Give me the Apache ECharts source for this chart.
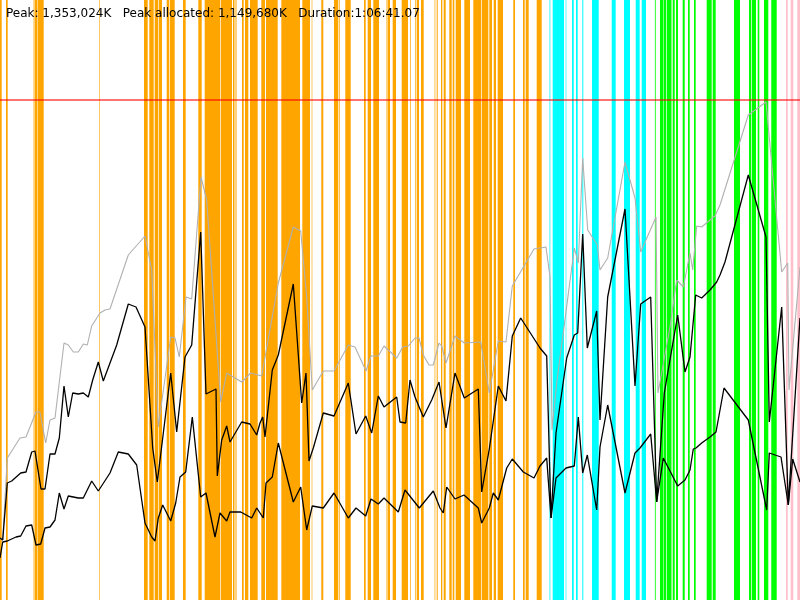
<!DOCTYPE html>
<html>
<head>
<meta charset="utf-8">
<title>GC timeline</title>
<script src="https://cdn.jsdelivr.net/npm/echarts@6/dist/echarts.min.js"></script>
<style>
  html, body { margin: 0; padding: 0; background: #fff; }
  #chart { width: 800px; height: 600px; }
</style>
</head>
<body>
<div id="chart"></div>
<script>
// time runs 0..800 (one unit per ~5 s), memory level 0..600, peak line at 500
var timeMax = 800;
var levelMax = 600;
var peakLevel = 500;
var summaryText = "Peak: 1,353,024K   Peak allocated: 1,149,680K   Duration:1:06:41.07";

// GC event spans [start, end]
var orangeSpans = [[0,1.7],[6,7.7],[33.6,34.4],[34.8,37.3],[37.7,43.7],[99.4,100],[144,147.7],[149.3,153.7],[154.7,158],[158.7,162],[166.7,169.3],[170,174.7],[183,185.7],[198.3,201.7],[204.7,220],[220.7,232],[233,234.5],[235.5,236.5],[242,243.7],[245,248.3],[250,257.7],[261.3,265],[266,277.7],[281.3,300],[302.3,310],[311.7,312.3],[321.3,323.3],[334,338.3],[339.3,340],[345.3,350.7],[364,365.7],[367.7,371],[373.3,379],[386.5,387.5],[388,390],[392.7,396],[401.7,408],[410.3,411],[415.3,416.3],[417,419],[421,423.7],[434.6,435.3],[436.7,437.7],[441,442.3],[443.7,445.7],[449.3,451.7],[452.7,454.3],[455.7,461],[464.3,470],[473.3,481],[481.7,488.3],[489.3,492],[493.7,496],[497.7,503],[513.3,515],[523,524.7],[525.7,528.7],[536.7,541.7]];
var cyanSpans = [[549.5,550.3],[552.7,564],[565.7,566.3],[572,573.7],[576,577.7],[582.3,583.3],[592,598.7],[611.7,615.7],[624,630],[635.7,639.7],[641.7,646]];
var greenSpans = [[654.9,655.7],[660,663.5],[664,666],[666.7,671.5],[672.7,674.7],[676,678],[682.7,684.7],[688,689.7],[694,695.7],[706.7,711.7],[712.7,715.7],[734,740],[749,751],[751.7,756],[757.7,759.3],[764,768.3],[771.3,776.7]];
var pinkSpans = [[786,787.7],[790.7,793.3],[797.3,800]];

// [time, level]
var heapSize = [[0,62],[2.7,60],[7.3,142],[20,162],[21.7,163],[26,163],[36,188],[40,188],[45.7,157],[50,180],[55,182],[64,257],[68.3,255],[73.3,248],[78.3,248],[83.3,256],[87.3,255],[91.7,274],[100,287],[105,290],[110,291],[128.3,345],[145,364],[151.7,330],[158.3,173],[170.7,263],[175,262],[179.3,243],[186,303],[191.7,301],[201,423],[206.7,400],[220.7,198],[226.7,227],[233.3,223],[241.7,218],[250.7,227],[261.7,224],[263.3,224],[278.3,317],[293.3,373],[300.7,369],[306.7,303],[312.3,210],[323.3,229],[334,229],[348.3,255],[355,253],[366,229],[371,244],[378.3,244],[384,254],[396.7,242],[402.7,253],[408.3,254],[415,262],[419,262],[423.3,245],[429,235],[433.3,235],[439,257],[441.7,254],[446,237],[455,264],[464.3,257],[480.7,258],[489.3,207],[498.3,259],[506,258],[512.3,314],[534,351],[540,352],[546,353],[550,323],[552,170],[556.7,217],[574.3,352],[578.3,337],[582.7,442],[587.7,370],[597.3,355],[600,330],[607.7,342],[625,438],[635,402],[640.7,348],[656,383],[658,207],[670,273],[676.7,320],[683.3,313],[690,347],[692.7,330],[696.7,374],[701.7,373],[710,380],[715,384],[720,395],[748.3,485],[766,498],[781.7,328],[787.7,337],[789,210],[800,333]];
var usedBefore = [[0,62],[2.7,60],[7.3,117],[11.7,119],[20.7,127],[26,128],[31.7,148],[35,149],[41,111],[45,111],[50,146],[55,146],[59.3,162],[64,214],[68.3,183],[72.7,207],[78.3,206],[83.3,207],[88.3,203],[92.7,220],[98.3,238],[103.3,219],[116.7,255],[128.3,296],[136,293],[145,273],[152.7,152],[157.3,118],[170.7,227],[176.7,168],[185,243],[191.7,255],[200.7,368],[206,206],[216,211],[217.3,124],[221.7,160],[226.7,174],[230,158],[241.7,178],[250,176],[256.7,165],[260,177],[262.7,183],[265,163],[272.3,230],[278.3,245],[293.3,316],[301.7,197],[306,227],[309,139],[313.3,152],[323.3,187],[334,184],[348.3,217],[356,166],[365.7,184],[371.7,167],[378.3,204],[384,193],[396.7,203],[400,178],[405.7,177],[410,220],[415,203],[423.3,183],[431.7,200],[439,218],[446,172],[455,227],[464.3,202],[478.3,211],[481.7,108],[489.3,151],[498.3,214],[506,199],[512.3,264],[520.7,282],[540,252],[546.7,244],[551,82],[556,167],[566.7,242],[574.3,265],[577.7,267],[582.7,366],[587.3,252],[596.7,289],[600,180],[607.7,303],[625,391],[635,214],[640.7,296],[650.7,303],[656.7,98],[664.3,207],[677.7,285],[685,228],[690,243],[695.7,305],[701.7,302],[710,310],[716.7,318],[720,325],[725,338],[748.3,425],[766,363],[769.3,178],[781.7,293],[788.3,95],[800,282]];
var usedAfter = [[0,42],[2.7,58],[7.3,59],[16,63],[20.7,64],[26,74],[31.7,75],[36,55],[40.7,56],[45,72],[50,73],[55,80],[59.3,107],[64,91],[68.3,104],[78.3,102],[83.3,102],[91.7,119],[98.3,109],[110,127],[118.3,148],[128.3,146],[136.7,135],[145,77],[151.7,63],[155,59],[158.3,82],[162.7,95],[170.7,79],[175.7,97],[180,123],[185.7,128],[192.3,183],[200.7,103],[206,107],[215,63],[220,87],[226.7,79],[230,88],[240.7,88],[251.7,82],[256.7,92],[263.3,82],[266,117],[272.3,123],[278.3,157],[293.3,98],[300.7,113],[306.7,70],[312.3,94],[323.3,92],[334,107],[348.3,82],[356,92],[365.7,84],[371,101],[378.3,96],[384,102],[398.3,88],[405,110],[419.3,92],[433.3,109],[440,92],[443.3,87],[446.7,113],[455,101],[464,105],[478.3,92],[481.7,77],[489.3,92],[493.3,107],[498.3,100],[506.7,132],[512.3,141],[523.3,128],[534,122],[540,134],[546.7,142],[551,82],[556,122],[566,132],[574.3,134],[578.3,183],[582.7,127],[587.3,145],[596.7,90],[600,153],[607.7,195],[625,107],[635,147],[640,152],[650.7,166],[656.7,98],[663.3,142],[677.7,114],[685,120],[690,130],[693.3,151],[696,152],[701.7,157],[710,163],[716,168],[724,212],[748.3,180],[766.7,90],[769.3,147],[781,143],[788.3,95],[792.7,141],[800,118]];

var spanSeries = function(spans, color) {
  return {
    type: 'custom',
    silent: true,
    z: 1,
    encode: { x: [0, 1] },
    data: spans,
    renderItem: function(params, api) {
      var lo = api.coord([api.value(0), 0]);
      var hi = api.coord([api.value(1), levelMax]);
      return {
        type: 'rect',
        shape: { x: lo[0], y: hi[1], width: hi[0] - lo[0], height: lo[1] - hi[1] },
        style: { fill: color }
      };
    }
  };
};

var lineSeries = function(data, color, width) {
  return {
    type: 'line',
    data: data,
    showSymbol: false,
    silent: true,
    z: 3,
    lineStyle: { color: color, width: width }
  };
};

var chart = echarts.init(document.getElementById('chart'));

chart.setOption({
  animation: false,
  backgroundColor: '#fff',
  title: {
    text: summaryText,
    left: 1,
    top: 3,
    textStyle: { fontFamily: 'DejaVu Sans', fontSize: 12, fontWeight: 'normal', color: '#000' }
  },
  grid: { left: 0, right: 0, top: 0, bottom: 0 },
  xAxis: { type: 'value', min: 0, max: timeMax, show: false },
  yAxis: { type: 'value', min: 0, max: levelMax, show: false },
  series: [
    spanSeries(orangeSpans, '#ffa500'),
    spanSeries(cyanSpans, '#00ffff'),
    spanSeries(greenSpans, '#00ff00'),
    spanSeries(pinkSpans, '#ffc0cb'),
    lineSeries(heapSize, '#b0b0b0', 1.1),
    lineSeries(usedBefore, '#000', 1.3),
    lineSeries(usedAfter, '#000', 1.3),
    {
      type: 'line',
      data: [],
      z: 4,
      markLine: {
        silent: true,
        symbol: 'none',
        label: { show: false },
        lineStyle: { color: 'rgba(255,0,0,0.55)', width: 2, type: 'solid' },
        data: [{ yAxis: peakLevel }]
      }
    }
  ]
});
</script>
</body>
</html>
